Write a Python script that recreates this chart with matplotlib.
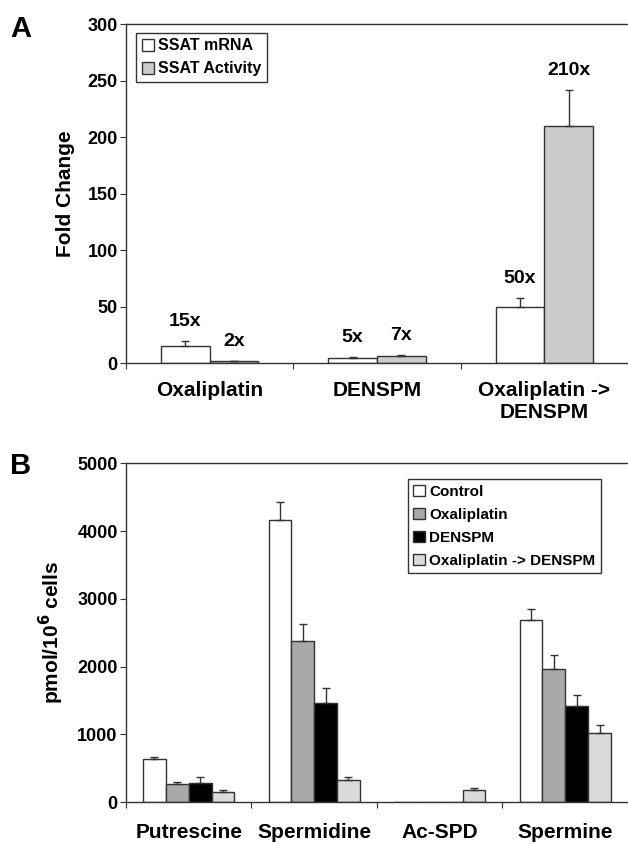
import numpy as np
import matplotlib
matplotlib.use("Agg")
import matplotlib.pyplot as plt

plt.rcParams['font.family'] = ['Liberation Sans', 'DejaVu Sans']
plt.rcParams['font.weight'] = 'bold'
plt.rcParams['mathtext.default'] = 'bf'

# Panel A data
a_groups = ['Oxaliplatin', 'DENSPM', 'Oxaliplatin ->\nDENSPM']
a_series = ['SSAT mRNA', 'SSAT Activity']
a_values = [[15, 5, 50], [2, 6.5, 210]]
a_errors = [[5, 0.4, 7.5], [0.4, 0.5, 32]]
a_labels = [['15x', '5x', '50x'], ['2x', '7x', '210x']]
a_colors = ['white', '#cccccc']

# Panel B data
b_groups = ['Putrescine', 'Spermidine', 'Ac-SPD', 'Spermine']
b_series = ['Control', 'Oxaliplatin', 'DENSPM', 'Oxaliplatin -> DENSPM']
b_values = [[635, 4165, 10, 2690],
            [265, 2380, 10, 1970],
            [285, 1460, 10, 1420],
            [157, 324, 181, 1017]]
b_errors = [[40, 270, 0, 167],
            [30, 245, 0, 206],
            [84, 230, 0, 163],
            [24, 45, 30, 119]]
b_colors = ['white', '#a9a9a9', 'black', '#dadada']

edge = '#333333'

fig = plt.figure(figsize=(6.28, 8.44), dpi=100)
axA = fig.add_axes([0.2006, 0.5695, 0.7994, 0.4017])
axB = fig.add_axes([0.2006, 0.0494, 0.7994, 0.4017])


def style_axes(ax, ngroups):
    ax.spines['right'].set_visible(False)
    for s in ('left', 'bottom', 'top'):
        ax.spines[s].set_color(edge)
        ax.spines[s].set_linewidth(1.0)
    ax.set_xlim(0, ngroups)
    ax.set_xticks(np.arange(ngroups + 1))
    ax.set_xticklabels([])
    ax.tick_params(axis='x', which='major', direction='out', length=4,
                   color=edge)
    ax.tick_params(axis='y', direction='out', length=4, pad=2,
                   labelsize=13, color=edge)
    for lab in ax.get_yticklabels():
        lab.set_fontweight('bold')


def style_legend(leg):
    leg.get_frame().set_edgecolor('black')
    leg.get_frame().set_linewidth(1.0)
    for t in leg.get_texts():
        t.set_fontweight('bold')


# ---- Panel A ----
w = 0.29
x = np.arange(len(a_groups)) + 0.5
for i in range(len(a_series)):
    xs = x + (i - 0.5) * w
    axA.bar(xs, a_values[i], w, color=a_colors[i], edgecolor=edge,
            linewidth=1.0, label=a_series[i])
    axA.errorbar(xs, a_values[i],
                 yerr=[np.zeros(len(xs)), a_errors[i]], fmt='none',
                 ecolor=edge, elinewidth=1.0, capsize=3, capthick=1.0)
    for j in range(len(xs)):
        axA.annotate(a_labels[i][j], (xs[j], a_values[i][j] + a_errors[i][j]),
                     xytext=(0, 8), textcoords='offset points',
                     ha='center', va='bottom', fontsize=14,
                     fontweight='bold')
axA.set_ylim(0, 300)
axA.set_yticks(range(0, 301, 50))
style_axes(axA, len(a_groups))
axA.set_xticks(x, minor=True)
axA.set_xticklabels(a_groups, minor=True, fontsize=15, fontweight='bold',
                    va='top')
axA.tick_params(axis='x', which='minor', length=0, pad=13)
axA.set_ylabel('Fold Change', fontsize=15, fontweight='bold', labelpad=9)
legA = axA.legend(loc='upper left', bbox_to_anchor=(0.02, 0.975),
                  fontsize=11.5, frameon=True, fancybox=False,
                  handlelength=0.75, handleheight=0.75, handletextpad=0.3,
                  borderpad=0.35, labelspacing=0.5, borderaxespad=0)
style_legend(legA)
fig.text(0.016, 0.982, 'A', fontsize=21, fontweight='bold', va='top')

# ---- Panel B ----
w = 0.182
x = np.arange(len(b_groups)) + 0.5
for i in range(len(b_series)):
    xs = x + (i - 1.5) * w
    axB.bar(xs, b_values[i], w, color=b_colors[i], edgecolor=edge,
            linewidth=1.0, label=b_series[i])
    yerr = np.array(b_errors[i])
    mask = yerr > 0
    axB.errorbar(xs[mask], np.array(b_values[i])[mask],
                 yerr=[np.zeros(mask.sum()), yerr[mask]], fmt='none',
                 ecolor=edge, elinewidth=1.0, capsize=3, capthick=1.0)
axB.set_ylim(0, 5000)
axB.set_yticks(range(0, 5001, 1000))
style_axes(axB, len(b_groups))
axB.set_xticks(x, minor=True)
axB.set_xticklabels(b_groups, minor=True, fontsize=15, fontweight='bold',
                    va='top')
axB.tick_params(axis='x', which='minor', length=0, pad=15)
axB.set_ylabel('pmol/10$^6$ cells', fontsize=15, fontweight='bold',
               labelpad=8)
legB = axB.legend(loc='upper right', bbox_to_anchor=(0.946, 0.953),
                  fontsize=11, frameon=True, fancybox=False,
                  handlelength=0.75, handleheight=0.75, handletextpad=0.3,
                  borderpad=0.35, labelspacing=0.6, borderaxespad=0)
style_legend(legB)
fig.text(0.016, 0.465, 'B', fontsize=21, fontweight='bold', va='top')

fig.savefig('out.png', dpi=100)
